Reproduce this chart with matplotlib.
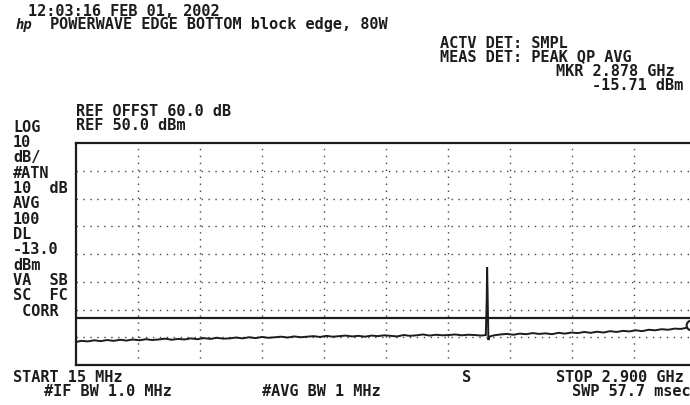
import matplotlib
matplotlib.use("Agg")
import matplotlib.pyplot as plt

# sweep settings
start_mhz = 15
stop_mhz = 2900
ref_level = 50.0
db_per_div = 10
n_ydiv = 8
n_xdiv = 10
display_line = -13.0
marker_mhz = 2878
marker_dbm = -15.71

# measured trace (MHz, dBm)
trace_mhz = [15, 40, 70, 100, 130, 160, 190, 220, 250, 280, 310, 340, 370,
             400, 430, 460, 490, 520, 550, 580, 610, 640, 670, 700, 730, 760,
             790, 820, 850, 880, 910, 940, 970, 1000, 1030, 1060, 1090, 1120,
             1150, 1180, 1210, 1240, 1270, 1300, 1330, 1360, 1390, 1420, 1450,
             1480, 1510, 1540, 1570, 1600, 1630, 1660, 1690, 1720, 1750, 1780,
             1810, 1840, 1870, 1900, 1922, 1926, 1928, 1930, 1932, 1934, 1938,
             1960, 1990, 2020, 2050, 2080, 2110, 2140, 2170, 2200, 2230, 2260,
             2290, 2320, 2350, 2380, 2410, 2440, 2470, 2500, 2530, 2560, 2590,
             2620, 2650, 2680, 2710, 2740, 2770, 2800, 2830, 2850, 2865, 2878]
trace_dbm = [-21.7, -21.3, -21.5, -21.1, -21.4, -21.0, -21.3, -20.9, -21.2,
             -20.8, -21.1, -20.7, -21.0, -20.8, -20.5, -20.9, -20.6, -20.8,
             -20.4, -20.7, -20.3, -20.6, -20.2, -20.5, -20.4, -20.1, -20.4,
             -20.0, -20.3, -19.9, -20.2, -20.0, -19.8, -20.1, -19.7, -20.0,
             -19.8, -19.6, -19.9, -19.5, -19.8, -19.6, -19.4, -19.7, -19.5,
             -19.8, -19.4, -19.6, -19.3, -19.5, -19.7, -19.2, -19.5, -19.3,
             -19.0, -19.4, -19.1, -19.3, -19.2, -19.0, -19.3, -19.1, -19.2,
             -19.4, -19.2, -7.0, 5.3, -3.0, -12.5, -21.0, -19.8, -19.3, -19.0,
             -18.8, -19.1, -18.7, -18.9, -18.5, -18.8, -18.6, -18.9, -18.4,
             -18.7, -18.3, -18.5, -18.1, -18.4, -18.0, -18.3, -17.8, -18.1,
             -17.7, -17.9, -17.5, -17.8, -17.3, -17.5, -17.1, -17.3, -16.9,
             -17.0, -16.7, -16.2, -15.71]

header_lines = [
    ("12:03:16 FEB 01, 2002", 28, 11),
    ("POWERWAVE EDGE BOTTOM block edge, 80W", 50, 25),
    ("ACTV DET: SMPL", 440, 43),
    ("MEAS DET: PEAK QP AVG", 440, 57),
    ("MKR 2.878 GHz", 556, 71),
    ("-15.71 dBm", 592, 85),
    ("REF OFFST 60.0 dB", 76, 112),
    ("REF 50.0 dBm", 76, 126),
]
side_labels = ["LOG", "10", "dB/", "#ATN", "10  dB", "AVG", "100", "DL",
               "-13.0", "dBm", "VA  SB", "SC  FC", " CORR"]
footer_lines = [
    ("START 15 MHz", 13, 377),
    ("S", 462, 377),
    ("STOP 2.900 GHz", 556, 377),
    ("#IF BW 1.0 MHz", 44, 391),
    ("#AVG BW 1 MHz", 262, 391),
    ("SWP 57.7 msec", 572, 391),
]

W, H = 690, 405
fig = plt.figure(figsize=(W / 100, H / 100), dpi=100)
fig.patch.set_facecolor("white")

ink = "#1c1c1c"
mono = dict(family="DejaVu Sans Mono", weight="bold", fontsize=11,
            color=ink, va="center", ha="left")


def put(s, x, y, **kw):
    opts = dict(mono)
    opts.update(kw)
    fig.text(x / W, 1 - y / H, s, **opts)


# graticule area (right edge runs just past the image)
left, right, top, bottom = 76, 696, 143, 365
ax = fig.add_axes([left / W, 1 - bottom / H, (right - left) / W, (bottom - top) / H])
bottom_level = ref_level - n_ydiv * db_per_div
ax.set_xlim(start_mhz, stop_mhz)
ax.set_ylim(bottom_level, ref_level)
ax.set_xticks([])
ax.set_yticks([])
for sp in ax.spines.values():
    sp.set_linewidth(1.6)
    sp.set_color(ink)

span = stop_mhz - start_mhz
for i in range(1, n_xdiv):
    ax.axvline(start_mhz + i * span / n_xdiv, color="#444", lw=1.0,
               ls=(0, (1, 4)))
for j in range(1, n_ydiv):
    ax.axhline(bottom_level + j * db_per_div, color="#444", lw=1.0,
               ls=(0, (1, 4)))

# display line
ax.axhline(display_line, color=ink, lw=1.6)

# trace and marker
ax.plot(trace_mhz, trace_dbm, color=ink, lw=1.4, solid_joinstyle="miter")
ax.plot([marker_mhz], [marker_dbm], marker="o", ms=7, mfc="white",
        mec=ink, mew=1.5, clip_on=False)

for s, x, y in header_lines:
    put(s, x, y)
# small logo before the title line
put("hp", 16, 25, style="italic", fontsize=10)

for k, s in enumerate(side_labels):
    put(s, 13, 127 + k * 15.35)

for s, x, y in footer_lines:
    put(s, x, y)

fig.savefig("out.png", dpi=100, facecolor="white")
